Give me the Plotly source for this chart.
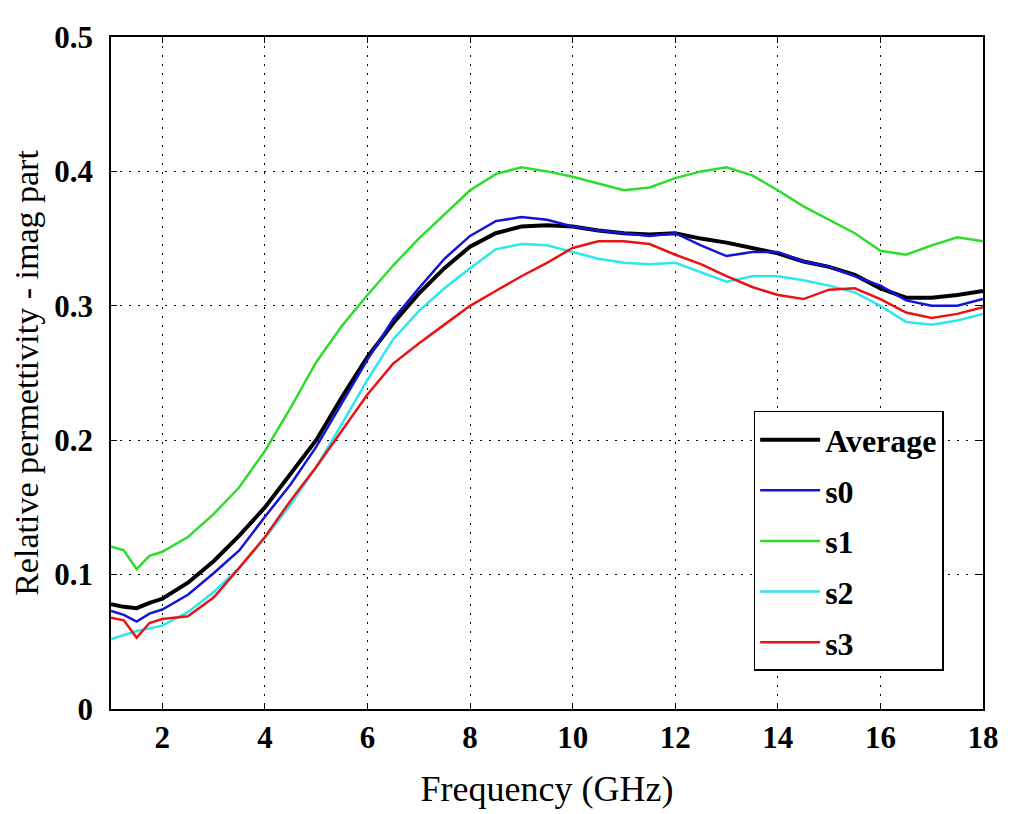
import plotly.graph_objects as go

freq = [1, 1.25, 1.5, 1.75, 2, 2.5, 3, 3.5, 4, 4.5, 5, 5.5, 6, 6.5, 7, 7.5, 8, 8.5, 9, 9.5,
        10, 10.5, 11, 11.5, 12, 12.5, 13, 13.5, 14, 14.5, 15, 15.5, 16, 16.5, 17, 17.5, 18]

average = [0.078, 0.076, 0.075, 0.079, 0.082, 0.094, 0.110, 0.129, 0.150, 0.175, 0.200, 0.232,
           0.262, 0.287, 0.309, 0.328, 0.344, 0.354, 0.359, 0.360, 0.359, 0.356, 0.354, 0.353,
           0.354, 0.350, 0.347, 0.343, 0.339, 0.333, 0.329, 0.323, 0.313, 0.306, 0.306, 0.308, 0.311]

s0 = [0.073, 0.070, 0.065, 0.071, 0.074, 0.085, 0.101, 0.118, 0.143, 0.167, 0.195, 0.228,
      0.260, 0.290, 0.313, 0.335, 0.352, 0.363, 0.366, 0.364, 0.359, 0.356, 0.354, 0.352,
      0.354, 0.345, 0.337, 0.340, 0.340, 0.333, 0.329, 0.322, 0.315, 0.304, 0.300, 0.300, 0.305]

s1 = [0.121, 0.118, 0.104, 0.114, 0.117, 0.128, 0.145, 0.165, 0.192, 0.224, 0.258, 0.285,
      0.308, 0.330, 0.350, 0.368, 0.386, 0.398, 0.403, 0.400, 0.396, 0.391, 0.386, 0.388,
      0.395, 0.400, 0.403, 0.397, 0.386, 0.374, 0.364, 0.354, 0.341, 0.338, 0.345, 0.351, 0.348]

s2 = [0.052, 0.055, 0.058, 0.060, 0.062, 0.072, 0.087, 0.105, 0.127, 0.152, 0.180, 0.212,
      0.245, 0.275, 0.296, 0.313, 0.328, 0.342, 0.346, 0.345, 0.340, 0.335, 0.332, 0.331,
      0.332, 0.325, 0.318, 0.322, 0.322, 0.319, 0.315, 0.310, 0.300, 0.288, 0.286, 0.289, 0.294]

s3 = [0.068, 0.066, 0.053, 0.064, 0.067, 0.069, 0.083, 0.105, 0.128, 0.155, 0.180, 0.207,
      0.234, 0.257, 0.272, 0.286, 0.300, 0.311, 0.322, 0.332, 0.343, 0.348, 0.348, 0.346,
      0.338, 0.331, 0.322, 0.314, 0.308, 0.305, 0.312, 0.313, 0.305, 0.295, 0.291, 0.294, 0.299]

x_ticks = [2, 4, 6, 8, 10, 12, 14, 16, 18]
y_ticks = [0, 0.1, 0.2, 0.3, 0.4, 0.5]
y_tick_labels = ["0", "0.1", "0.2", "0.3", "0.4", "0.5"]

series = [
    ("Average", average, "#000000", 4),
    ("s0", s0, "#1414d8", 2.5),
    ("s1", s1, "#2edc2e", 2.5),
    ("s2", s2, "#2ee6ee", 2.5),
    ("s3", s3, "#e81414", 2.5),
]

FONT = "Liberation Serif"

fig = go.Figure()
for name, vals, color, w in series:
    fig.add_trace(go.Scatter(
        x=freq, y=vals, mode="lines", name=name,
        line=dict(color=color, width=w),
        legendgroup=name,
    ))

axis_common = dict(
    showline=True, linecolor="black", linewidth=1.5, mirror="ticks",
    ticks="inside", ticklen=6, tickcolor="black", tickwidth=1,
    showgrid=True, gridcolor="black", gridwidth=1.2, griddash="2px,7px",
    zeroline=False,
    tickfont=dict(family=FONT, size=31, color="black", weight="bold"),
)

fig.update_xaxes(
    range=[1, 18], tickvals=x_ticks,
    title=dict(text="Frequency (GHz)", font=dict(family=FONT, size=36, color="black"), standoff=22),
    **axis_common,
)
fig.update_yaxes(
    range=[0, 0.5], tickvals=y_ticks, ticktext=y_tick_labels,
    ticklabelstandoff=10,
    title=dict(text="Relative permettivity - imag part", font=dict(family=FONT, size=34, color="black"), standoff=8),
    **axis_common,
)

fig.update_layout(
    width=1003, height=806,
    margin=dict(l=103, r=23, t=20, b=105),
    paper_bgcolor="white", plot_bgcolor="white",
    font=dict(family=FONT, color="black"),
    showlegend=True,
    legend=dict(
        x=0.737, y=0.4435, xanchor="left", yanchor="top",
        bgcolor="white", bordercolor="black", borderwidth=1.5,
        font=dict(family=FONT, size=32, color="black", weight="bold"),
        tracegroupgap=6, entrywidth=180, itemwidth=60,
    ),
)

fig.write_html("out.html")
